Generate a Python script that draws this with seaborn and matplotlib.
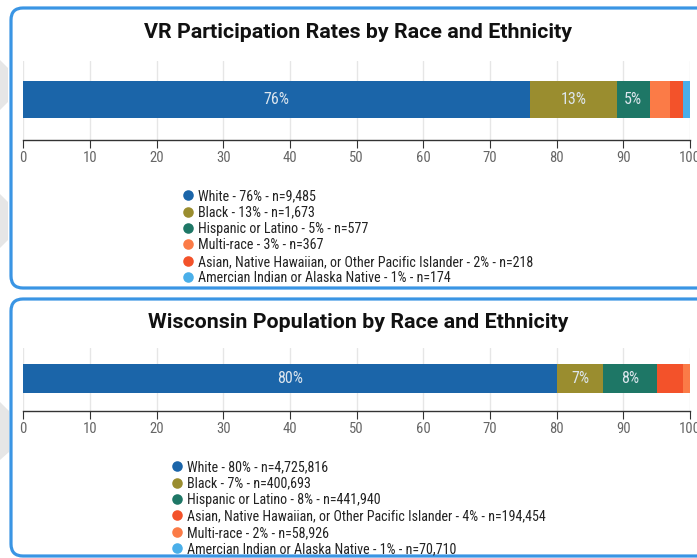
import numpy as np
import pandas as pd
import matplotlib
matplotlib.use("Agg")
import matplotlib.pyplot as plt
import seaborn as sns
from matplotlib import font_manager
from matplotlib.patches import FancyBboxPatch, Polygon
from matplotlib.lines import Line2D

# ---------------- data ----------------
vr_title = "VR Participation Rates by Race and Ethnicity"
vr_groups = ["White", "Black", "Hispanic or Latino", "Multi-race",
             "Asian, Native Hawaiian, or Other Pacific Islander",
             "Amercian Indian or Alaska Native"]
vr_pct = [76, 13, 5, 3, 2, 1]
vr_n = ["9,485", "1,673", "577", "367", "218", "174"]

wi_title = "Wisconsin Population by Race and Ethnicity"
wi_groups = ["White", "Black", "Hispanic or Latino",
             "Asian, Native Hawaiian, or Other Pacific Islander",
             "Multi-race", "Amercian Indian or Alaska Native"]
wi_pct = [80, 7, 8, 4, 2, 1]
wi_n = ["4,725,816", "400,693", "441,940", "194,454", "58,926", "70,710"]

x_ticks = [0, 10, 20, 30, 40, 50, 60, 70, 80, 90, 100]

group_colors = {
    "White": "#1b65a9",
    "Black": "#9a8d2f",
    "Hispanic or Latino": "#1e7766",
    "Multi-race": "#fb7b47",
    "Asian, Native Hawaiian, or Other Pacific Islander": "#f3522a",
    "Amercian Indian or Alaska Native": "#4aafe9",
}

# ---------------- style ----------------
sns.set_theme(style="white")
names = {f.name for f in font_manager.fontManager.ttflist}
cond = next((n for n in ["Roboto Condensed", "Roboto", "DejaVu Sans"] if n in names), "DejaVu Sans")
bold = "Roboto" if "Roboto" in names else "DejaVu Sans"
plt.rcParams["font.family"] = [cond, "DejaVu Sans"]

W, H = 697, 558
fig = plt.figure(figsize=(W / 100, H / 100), dpi=100)
fig.patch.set_facecolor("white")

# background layer in pixel coordinates
bg = fig.add_axes([0, 0, 1, 1], zorder=0)
bg.set_xlim(0, W)
bg.set_ylim(H, 0)
bg.axis("off")
for pts in ([(0, 60), (8, 68), (8, 102), (0, 110)],
            [(0, 194), (8, 202), (8, 240), (0, 248)],
            [(0, 402), (9, 411), (9, 452), (0, 460)]):
    bg.add_patch(Polygon(pts, closed=True, facecolor="#e6e6e6", edgecolor="none"))
for (y0, y1) in ((8, 288), (299, 556)):
    bg.add_patch(FancyBboxPatch((11, y0), 730, y1 - y0,
                                boxstyle="round,pad=0,rounding_size=12",
                                facecolor="white", edgecolor="#3a95e4", linewidth=2.3))


def px_rect(x0, y0, x1, y1):
    return [x0 / W, 1 - y1 / H, (x1 - x0) / W, (y1 - y0) / H]


def stacked(ax, groups, pct, label_min=5):
    cum = np.cumsum(pct)
    df = pd.DataFrame({"group": groups, "pct": pct, "cum": cum, "row": "all"})
    for i in reversed(range(len(df))):
        r = df.iloc[[i]]
        sns.barplot(data=r, x="cum", y="row", orient="h",
                    color=group_colors[r["group"].iloc[0]], saturation=1,
                    width=0.468, linewidth=0, ax=ax, zorder=2)
    for i, r in df.iterrows():
        if r["pct"] >= label_min:
            ax.text(r["cum"] - r["pct"] / 2, 0, f"{r['pct']}%", ha="center", va="center",
                    color="#dde6ee", fontsize=11.5, zorder=3)
    ax.set_xlim(0, 100)
    ax.set_ylim(0.513, -0.487)
    ax.set_xticks(x_ticks)
    ax.set_xticklabels([str(t) for t in x_ticks])
    ax.set_yticks([])
    ax.set_xlabel("")
    ax.set_ylabel("")
    ax.set_facecolor("none")
    ax.grid(axis="x", color="#e6e6e6", linewidth=1, zorder=0)
    ax.grid(axis="y", visible=False)
    ax.set_axisbelow(True)
    for s in ("top", "left", "right"):
        ax.spines[s].set_visible(False)
    ax.spines["bottom"].set_color("#333333")
    ax.spines["bottom"].set_linewidth(1)
    ax.tick_params(axis="x", direction="out", length=6, width=0.8, color="#333333",
                   labelcolor="#666666", labelsize=10.5, pad=2, bottom=True)


def legend(groups, pct, n, x_handle, y_first):
    handles = [Line2D([], [], marker="o", linestyle="", markersize=7.6,
                      markerfacecolor=group_colors[g], markeredgewidth=0)
               for g in groups]
    labels = [f"{g} - {p}% - n={k}" for g, p, k in zip(groups, pct, n)]
    fs = 10.1
    fspx = fs / 72 * 100
    hl = 0.8
    x0 = x_handle - hl * fspx / 2
    fig.legend(handles, labels, loc="upper left",
               bbox_to_anchor=(x0 / W, 1 - (y_first - 7.0) / H),
               frameon=False, fontsize=fs, handlelength=hl, handletextpad=0.3,
               labelspacing=0.175, borderpad=0, borderaxespad=0,
               labelcolor="#222222")


# ---------------- top panel ----------------
ax1 = fig.add_axes(px_rect(23.3, 61, 690, 140), zorder=1)
stacked(ax1, vr_groups, vr_pct)
fig.text(358 / W, 1 - 38.5 / H, vr_title, ha="center", va="baseline",
         fontsize=15.4, fontweight="bold", family=bold, color="#111111")
legend(vr_groups, vr_pct, vr_n, 188, 196)

# ---------------- bottom panel ----------------
ax2 = fig.add_axes(px_rect(23.3, 348, 690, 411), zorder=1)
stacked(ax2, wi_groups, wi_pct)
fig.text(358 / W, 1 - 327.5 / H, wi_title, ha="center", va="baseline",
         fontsize=15.4, fontweight="bold", family=bold, color="#111111")
legend(wi_groups, wi_pct, wi_n, 177, 467)

fig.savefig("out.png", dpi=100, facecolor="white")
